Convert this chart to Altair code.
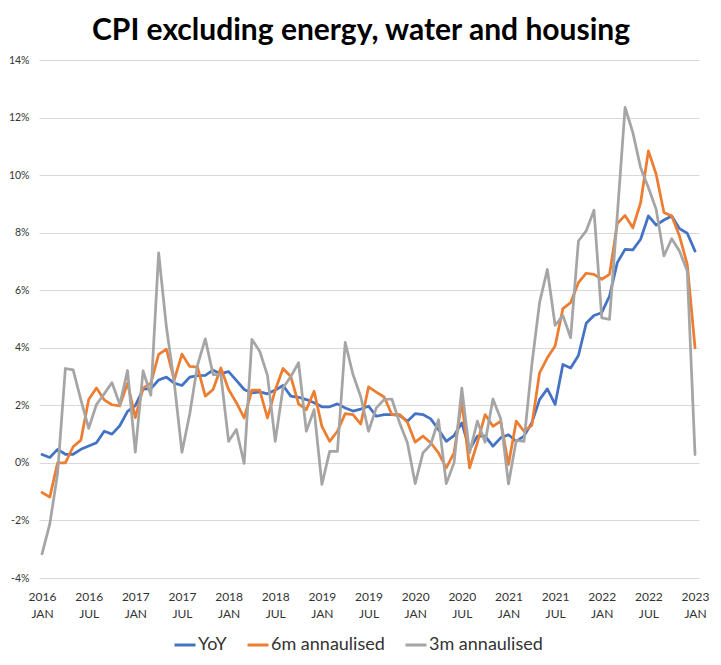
import altair as alt
import pandas as pd

# month index 0 = Jan 2016 ... 84 = Jan 2023
yoy = [0.29, 0.19, 0.47, 0.30, 0.30, 0.47, 0.59, 0.70, 1.10, 1.00, 1.29, 1.79,
       1.99, 2.56, 2.58, 2.88, 2.98, 2.77, 2.69, 2.98, 3.03, 3.04, 3.22, 3.10,
       3.17, 2.87, 2.55, 2.43, 2.47, 2.40, 2.53, 2.69, 2.32, 2.28, 2.20, 2.09,
       1.95, 1.95, 2.05, 1.91, 1.80, 1.87, 1.97, 1.62, 1.68, 1.68, 1.65, 1.45,
       1.71, 1.68, 1.53, 1.16, 0.75, 0.95, 1.39, 0.46, 0.93, 0.93, 0.58, 0.87,
       0.98, 0.75, 0.93, 1.39, 2.20, 2.57, 2.03, 3.42, 3.30, 3.73, 4.85, 5.12,
       5.22, 5.80, 6.96, 7.42, 7.40, 7.77, 8.58, 8.26, 8.44, 8.58, 8.14, 7.98,
       7.36]
m6 = [-1.03, -1.19, 0.00, 0.00, 0.56, 0.79, 2.20, 2.60, 2.19, 2.02, 1.98, 2.77,
      1.57, 2.60, 2.77, 3.77, 3.95, 2.88, 3.78, 3.35, 3.33, 2.32, 2.55, 3.30,
      2.55, 2.09, 1.56, 2.53, 2.53, 1.56, 2.53, 3.28, 3.00, 2.05, 1.85, 2.49,
      1.27, 0.75, 1.10, 1.71, 1.68, 1.35, 2.64, 2.46, 2.29, 1.68, 1.68, 1.41,
      0.72, 0.93, 0.70, 0.35, -0.17, 0.35, 2.14, -0.17, 0.70, 1.68, 1.27, 1.45,
      -0.06, 1.45, 1.10, 1.30, 3.13, 3.65, 4.06, 5.36, 5.57, 6.26, 6.59, 6.55,
      6.38, 6.55, 8.32, 8.60, 8.17, 9.04, 10.84, 10.03, 8.70, 8.58, 7.88, 6.90,
      4.00]
m3 = [-3.16, -2.12, -0.37, 3.28, 3.23, 2.19, 1.20, 2.03, 2.40, 2.79, 2.03, 3.21,
      0.37, 3.20, 2.35, 7.30, 4.72, 2.80, 0.37, 1.70, 3.40, 4.31, 3.07, 3.07,
      0.75, 1.16, -0.02, 4.29, 3.88, 3.04, 0.75, 2.60, 3.00, 3.48, 1.10, 1.85,
      -0.75, 0.40, 0.40, 4.19, 3.07, 2.30, 1.10, 1.91, 2.20, 2.22, 1.39, 0.70,
      -0.72, 0.35, 0.64, 1.50, -0.72, 0.00, 2.60, 0.35, 1.45, 0.72, 2.22, 1.53,
      -0.73, 0.78, 0.75, 3.40, 5.57, 6.72, 4.78, 5.12, 4.35, 7.71, 8.06, 8.78,
      5.04, 4.99, 8.60, 12.35, 11.48, 10.26, 9.57, 8.81, 7.19, 7.79, 7.36, 6.67,
      0.29]

series_names = ["YoY", "6m annaulised", "3m annaulised"]
series_colors = ["#4472C4", "#ED7D31", "#A5A5A5"]

tick_years = ["2016", "2016", "2017", "2017", "2018", "2018", "2019", "2019",
              "2020", "2020", "2021", "2021", "2022", "2022", "2023"]
tick_months = ["JAN", "JUL", "JAN", "JUL", "JAN", "JUL", "JAN", "JUL",
               "JAN", "JUL", "JAN", "JUL", "JAN", "JUL", "JAN"]
y_ticks = [-4, -2, 0, 2, 4, 6, 8, 10, 12, 14]
title_text = "CPI excluding energy, water and housing"

rows = []
for k, (name, vals) in enumerate(zip(series_names, [yoy, m6, m3])):
    for i, v in enumerate(vals):
        rows.append({"month": i, "value": v, "series": name, "k": k})
df = pd.DataFrame(rows)

label_arr = "[" + ",".join(f"['{y}','{m}']" for y, m in zip(tick_years, tick_months)) + "]"
label_expr = f"{label_arr}[round(datum.value/6)]"

FONT = "Lato"
TXT = "#333333"

lines = alt.Chart(df).mark_line(strokeWidth=2.75, strokeJoin="round", strokeCap="round").encode(
    x=alt.X("month:Q",
            scale=alt.Scale(domain=[-0.39, 84.51], nice=False, zero=False),
            axis=alt.Axis(values=list(range(0, 85, 6)), labelExpr=label_expr,
                          grid=False, domain=False, ticks=False, tickSize=0,
                          labelPadding=22, labelBaseline="alphabetic",
                          labelLineHeight=17, labelFont=FONT, labelFontSize=12,
                          labelColor=TXT, title=None, labelFlush=False,
                          labelOverlap=False)),
    y=alt.Y("value:Q",
            scale=alt.Scale(domain=[-4, 14], nice=False, zero=False),
            axis=alt.Axis(values=y_ticks, labelExpr="datum.value + '%'",
                          grid=True, gridColor="#D9D9D9", gridWidth=1,
                          domain=False, ticks=False, labelPadding=10,
                          labelFont=FONT, labelFontSize=10.5, labelColor=TXT,
                          title=None)),
    color=alt.Color("series:N",
                    scale=alt.Scale(domain=series_names, range=series_colors),
                    legend=alt.Legend(orient="none", legendX=134, legendY=573,
                                      direction="horizontal", title=None,
                                      symbolType="stroke", symbolSize=441,
                                      symbolStrokeWidth=3, labelFont=FONT,
                                      labelFontSize=18, labelColor=TXT,
                                      labelOffset=1, columnPadding=14,
                                      padding=0)),
    order=alt.Order("k:Q"),
)

title = alt.Chart(alt.Data(values=[{"t": title_text}])).mark_text(
    font=FONT, fontSize=30, fontWeight="bold", color="black",
    align="center", baseline="alphabetic"
).encode(text="t:N", x=alt.value(322), y=alt.value(-20))

chart = alt.layer(lines, title).properties(
    width=660, height=518,
    padding={"left": 31, "top": 52, "right": 14, "bottom": 79},
    autosize="none",
).configure_view(stroke=None)

chart.save("out.html", embed_options={"renderer": "svg", "actions": False})
